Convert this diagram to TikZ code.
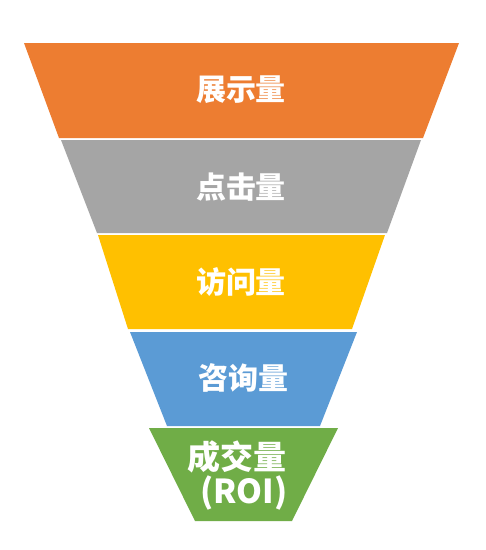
\documentclass[tikz,border=0pt]{standalone}
\usepackage{fontspec}
\newfontfamily\cjk{Noto Sans CJK SC}
\definecolor{cOrange}{HTML}{ED7D31}
\definecolor{cGray}{HTML}{A5A5A5}
\definecolor{cGold}{HTML}{FFC000}
\definecolor{cBlue}{HTML}{5B9BD5}
\definecolor{cGreen}{HTML}{70AD47}
\tikzset{
  band/.style={draw=none},
  lbl/.style={text=white, font=\cjk\bfseries\fontsize{30}{34}\selectfont, inner sep=0pt},
  lblbig/.style={text=white, font=\cjk\bfseries\fontsize{33}{38}\selectfont, inner sep=0pt}
}
\begin{document}
\begin{tikzpicture}[x=1pt,y=-1pt]
\useasboundingbox (0,0) rectangle (486,550);
\fill[white] (0,0) rectangle (486,550);
\fill[band,cOrange] (24,43) -- (459,43) -- (423,138) -- (59,138) -- cycle;
\fill[band,cGray] (61,140) -- (421,140) -- (387,233) -- (97,233) -- cycle;
\fill[band,cGold] (98,235) -- (385,235) -- (352,329) -- (128,329) -- cycle;
\fill[band,cBlue] (130,332) -- (357,332) -- (320,426) -- (167,426) -- cycle;
\fill[band,cGreen] (149,428) -- (338,428) -- (292,521) -- (195,521) -- cycle;
\node[lbl] (t1) at (241,90) {展示量};
\node[lbl] (t2) at (241,187) {点击量};
\node[lbl] (t3) at (241,282) {访问量};
\node[lbl] (t4) at (243,378) {咨询量};
\node[lblbig] (t5) at (237,457) {成交量};
\node[lblbig] (t6) at (244,493) {(ROI)};
\end{tikzpicture}
\end{document}
